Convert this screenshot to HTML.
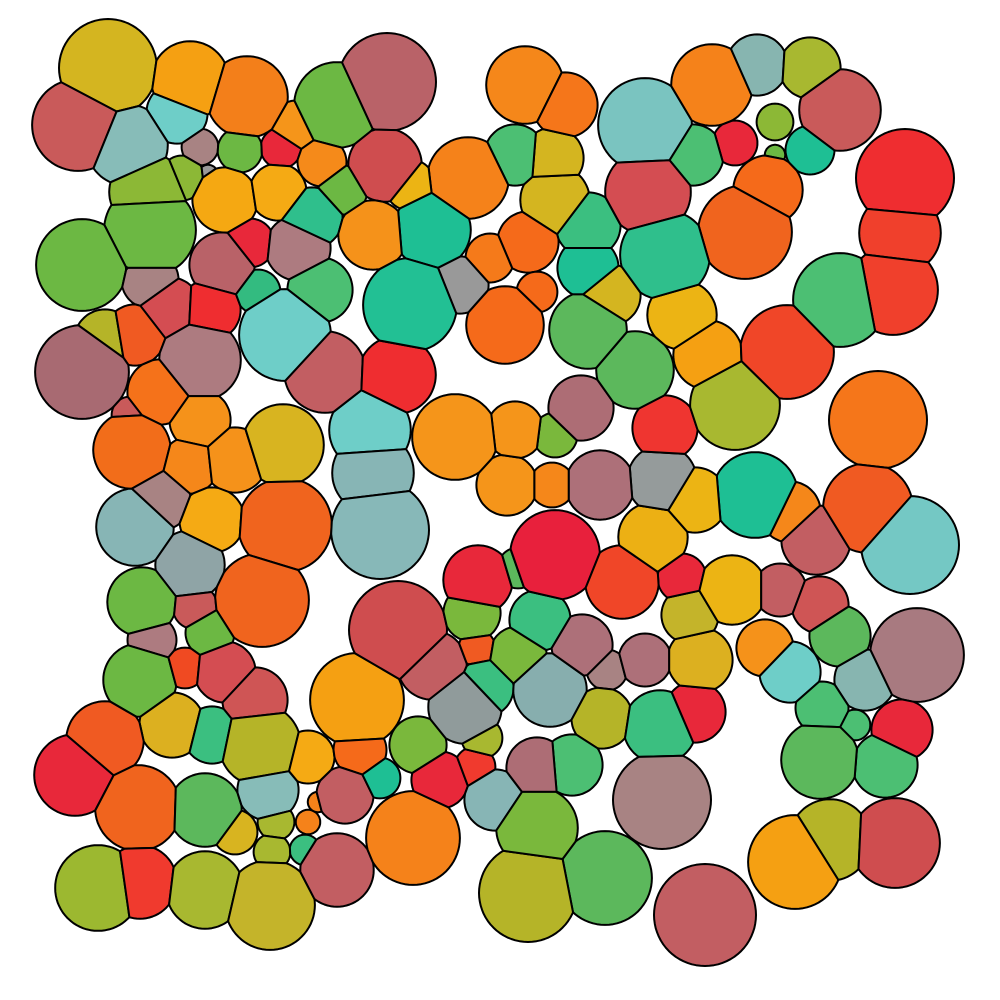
<!DOCTYPE html>
<html><head><meta charset="utf-8"><style>
html,body{margin:0;padding:0;background:#fff;}
svg{display:block;}
</style></head>
<body>
<svg id="chart" width="1000" height="1000" viewBox="0 0 1000 1000">
<rect width="1000" height="1000" fill="#fff"/>
<g id="cells"></g>
</svg>
<script>
const cellX=[108,78,190,247,177,127,200,240,281,296,337,387,385,322,343,148,182,208,225,278,150,82,130,150,222,250,298,312,170,210,258,320,285,105,135,82,200,160,130,132,200,190,235,283,135,160,212,285,190,142,195,262,152,210,140,185,225,255,172,212,260,105,75,138,205,268,308,235,276,272,308,318,305,98,140,205,270,337,413,357,360,345,380,418,440,475,495,465,482,398,432,472,477,485,518,550,540,478,518,555,582,607,645,602,572,537,660,695,700,690,682,622,653,732,765,780,820,816,790,755,695,662,600,552,507,555,515,455,370,373,380,325,397,581,665,735,708,682,635,610,588,588,588,555,553,515,528,537,490,505,460,468,432,410,373,410,525,565,645,712,757,810,840,775,775,810,735,693,648,768,745,665,905,900,893,840,787,878,868,910,917,865,840,790,822,855,902,885,820,830,795,895,705,662,605,528,537];
const cellY=[68,125,80,97,113,145,147,150,148,125,105,82,165,162,190,192,178,175,200,192,230,265,263,280,265,243,248,218,308,310,292,290,335,340,335,372,360,392,415,450,420,465,460,445,527,500,520,525,565,602,607,600,640,633,680,668,672,700,725,735,745,740,775,808,810,790,757,832,822,852,822,802,850,888,882,890,905,870,838,700,750,795,778,745,780,767,800,707,738,630,665,613,648,688,655,690,620,580,568,555,645,670,660,718,765,768,727,712,660,615,578,582,537,590,648,590,605,540,512,495,500,480,485,485,485,435,430,437,430,473,530,372,375,408,428,405,355,315,370,295,268,330,225,200,158,155,242,292,258,325,285,178,230,185,235,305,85,105,125,85,65,68,110,122,155,150,143,155,192,190,232,255,178,233,290,300,352,420,508,545,655,680,636,672,708,725,730,765,760,840,862,843,915,800,878,893,828];
const cellR=[48,45,38,40,30,40,18,22,20,24,42,48,36,24,24,38,22,10,32,28,45,45,14,28,32,24,32,30,30,30,22,32,45,30,30,46,40,32,18,38,30,28,32,40,38,30,32,46,34,34,22,46,24,24,36,20,30,32,32,28,40,38,40,42,36,30,26,22,18,18,12,10,15,42,36,38,44,36,46,46,26,28,20,28,28,20,30,36,20,48,34,28,18,28,28,36,30,34,20,44,30,20,26,30,30,30,36,30,32,28,24,36,34,34,28,26,28,34,30,42,32,34,34,22,30,22,28,42,40,40,48,40,38,32,32,44,34,34,38,30,30,38,32,34,30,30,30,20,24,38,28,40,38,25,34,46,38,32,46,40,30,30,40,18,10,24,22,30,42,34,46,44,48,40,44,46,46,48,44,48,46,30,30,30,26,15,30,32,38,40,46,44,50,48,46,48,40];
const cellColor=["#d4b520","#c95a5a","#f5a012","#f37f1a","#6ecec8","#87bcb8","#a88383","#6cb843","#e8283a","#f5951a","#6cb843","#b96268","#cf4d4f","#f58a1a","#6cb843","#8cb836","#8cb836","#999999","#f5a812","#f5aa14","#6cb843","#6cb843","#f5951a","#a88383","#b96268","#e8283a","#ad7b80","#2fbf8c","#d44d52","#ef2d30","#33bb80","#4cbf73","#6ecec8","#b5b428","#f05a22","#a86a72","#ad7b80","#f5721a","#c95a5a","#f26d1a","#f5921a","#f5871a","#f5921a","#d8b420","#87b5b5","#a88383","#f5aa14","#f0641e","#8fa4a6","#6cb843","#c95a5a","#f0641e","#ad7b80","#6cb843","#6cb843","#f04a22","#d44d52","#cf5555","#dcb020","#3bbf80","#b5b428","#f05a22","#e8283a","#f0641e","#5cb85c","#87bcb8","#f5aa14","#d8b420","#a8b830","#a8b830","#f5821a","#f5821a","#3bbf80","#9cb830","#f03a2e","#a8b830","#c4b42a","#c25e62","#f5821a","#f5a012","#f56a1a","#c25e62","#1ebf94","#7ab83c","#e8283a","#f03a2e","#87b5b5","#909b9b","#a8b830","#cf4d4f","#c25e62","#7ab83c","#f05a22","#3bbf80","#7ab83c","#87aeae","#3bbf80","#e8283a","#5cb85c","#e8203c","#ad7079","#a88383","#ad7079","#b5b428","#4cbf73","#ad6d75","#3bbf80","#e8283a","#dcb020","#c4b42a","#e8283a","#f04628","#ecb014","#ecb414","#f5921a","#c25e62","#cf5555","#c25e62","#f5871a","#1ebf94","#ecb414","#959b9b","#ad7079","#f5871a","#f5951a","#7ab83c","#f5951a","#f5951a","#6ecec8","#87b5b5","#87b8b8","#c25e62","#ef2d30","#ad6d75","#ef3530","#a8b830","#f5a012","#ecb414","#5cb85c","#d4b520","#1ebf94","#5cb85c","#3bbf80","#d4b520","#d4b520","#4cbf73","#f56a1a","#f56a1a","#f57a1a","#f56a1a","#999999","#f5821a","#1ebf94","#ecb414","#f5921a","#22c094","#f5871a","#f5761a","#7ac4c0","#f5821a","#87b5b0","#a8b830","#c95a5a","#8cb836","#6cb843","#1ebf94","#e8283a","#4cbf73","#d44d52","#f56a1a","#f0641e","#2fbf8c","#ef2d30","#f0402c","#f0402c","#4cbf73","#f04628","#f5761a","#f05a22","#74c8c4","#a87a80","#87b5b0","#5cb85c","#6ecec8","#4cbf73","#4cbf73","#e8283a","#4cbf73","#5cb85c","#b5b428","#f5a012","#cf4d4f","#c25e62","#a88383","#5cb85c","#b5b428","#7ab83c"];

function clip(poly,a,b,c){
  const out=[];
  for(let i=0;i<poly.length;i++){
    const p=poly[i],q=poly[(i+1)%poly.length];
    const fp=a*p[0]+b*p[1]-c, fq=a*q[0]+b*q[1]-c;
    if(fp<=0) out.push(p);
    if((fp<0&&fq>0)||(fp>0&&fq<0)){const t=fp/(fp-fq);out.push([p[0]+t*(q[0]-p[0]),p[1]+t*(q[1]-p[1])]);}
  }
  return out;
}
const g=document.getElementById('cells');
const N=cellX.length;
const SCALE=1.02;
for(let i=0;i<N;i++){
  const R=cellR[i]*SCALE;
  let poly=[];
  for(let k=0;k<72;k++){const t=k/72*Math.PI*2;poly.push([cellX[i]+R*Math.cos(t),cellY[i]+R*Math.sin(t)]);}
  for(let j=0;j<N;j++){
    if(j===i)continue;
    const dx=cellX[j]-cellX[i],dy=cellY[j]-cellY[i];
    const Rj=cellR[j]*SCALE;
    if(Math.hypot(dx,dy)>R+Rj)continue;
    const c=(cellX[j]*cellX[j]+cellY[j]*cellY[j]-cellX[i]*cellX[i]-cellY[i]*cellY[i]-Rj*Rj+R*R)/2;
    poly=clip(poly,dx,dy,c);
    if(poly.length<3)break;
  }
  if(poly.length<3)continue;
  const el=document.createElementNS('http://www.w3.org/2000/svg','polygon');
  el.setAttribute('points',poly.map(p=>p[0].toFixed(1)+','+p[1].toFixed(1)).join(' '));
  el.setAttribute('fill',cellColor[i]);
  el.setAttribute('stroke','#000');
  el.setAttribute('stroke-width','2');
  el.setAttribute('stroke-linejoin','round');
  
  
  g.appendChild(el);
}
</script>
</body></html>
